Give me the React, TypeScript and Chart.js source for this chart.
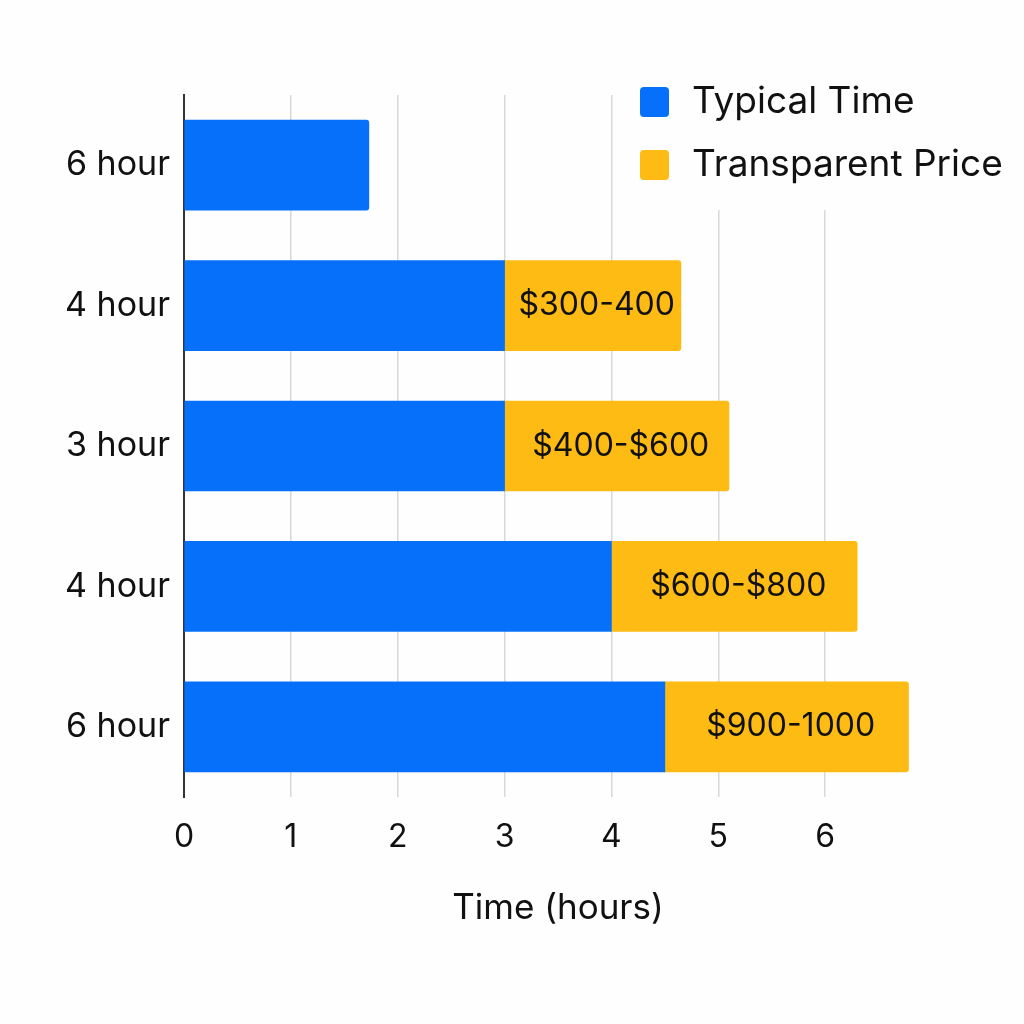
import React, { useEffect, useRef } from "react";
import { Chart, registerables } from "chart.js";

Chart.register(...registerables);

const categories = ["6 hour", "4 hour", "3 hour", "4 hour", "6 hour"];
const typicalTime = [1.73, 3, 3, 4, 4.5];
const transparentPrice = [null, 1.65, 2.1, 2.3, 2.28];
const priceLabels = ["", "$300-400", "$400-$600", "$600-$800", "$900-1000"];
const seriesNames = ["Typical Time", "Transparent Price"];
const xTicks = [0, 1, 2, 3, 4, 5, 6];

const BLUE = "#0670FB";
const ORANGE = "#FDBB13";
const FONT = "Inter, 'Noto Sans', sans-serif";
const BG = "#FEFEFE";

const bgPlugin = {
  id: "bg",
  beforeDraw(chart: any) {
    const { ctx, width, height } = chart;
    ctx.save();
    ctx.fillStyle = BG;
    ctx.fillRect(0, 0, width, height);
    ctx.restore();
  },
};

const labelPlugin = {
  id: "priceLabels",
  afterDatasetsDraw(chart: any) {
    const { ctx } = chart;
    const meta = chart.getDatasetMeta(1);
    ctx.save();
    ctx.font = `32px ${FONT}`;
    ctx.fillStyle = "#111";
    ctx.textAlign = "center";
    ctx.textBaseline = "middle";
    meta.data.forEach((el: any, i: number) => {
      const t = priceLabels[i];
      if (!t) return;
      const cx = (el.x + el.base) / 2 + 4;
      ctx.fillText(t, cx, el.y);
    });
    ctx.restore();
  },
};

const legendPlugin = {
  id: "customLegend",
  beforeDatasetsDraw(chart: any) {
    const { ctx } = chart;
    ctx.save();
    ctx.fillStyle = BG;
    ctx.fillRect(625, 60, 390, 150);
    ctx.restore();
  },
  afterDraw(chart: any) {
    const { ctx } = chart;
    const colors = [BLUE, ORANGE];
    const ys = [102, 165];
    ctx.save();
    seriesNames.forEach((name, i) => {
      ctx.fillStyle = colors[i];
      ctx.beginPath();
      (ctx as any).roundRect(640, ys[i] - 15, 29, 30, 4);
      ctx.fill();
      ctx.fillStyle = "#111";
      ctx.font = `37px ${FONT}`;
      ctx.textAlign = "left";
      ctx.textBaseline = "middle";
      ctx.fillText(name, 692, ys[i]);
    });
    ctx.restore();
  },
};

export default function App() {
  const ref = useRef<HTMLCanvasElement>(null);
  useEffect(() => {
    document.body.style.margin = "0";
    const chart = new Chart(ref.current!, {
      type: "bar",
      data: {
        labels: categories,
        datasets: [
          {
            label: seriesNames[0],
            data: typicalTime,
            backgroundColor: BLUE,
            barThickness: 90,
            borderRadius: 3,
          },
          {
            label: seriesNames[1],
            data: transparentPrice as any,
            backgroundColor: ORANGE,
            barThickness: 90,
            borderRadius: 3,
          },
        ],
      },
      options: {
        indexAxis: "y",
        animation: false,
        responsive: false,
        maintainAspectRatio: false,
        layout: { padding: { top: 95, right: 92, bottom: 0, left: 0 } },
        plugins: {
          legend: { display: false },
          tooltip: { enabled: false },
        },
        scales: {
          x: {
            stacked: true,
            min: 0,
            max: 7,
            afterFit(s: any) {
              s.height = 227;
            },
            afterBuildTicks(s: any) {
              s.ticks = [...xTicks, 7].map((v) => ({ value: v }));
            },
            ticks: {
              stepSize: 1,
              padding: 21,
              color: "#111",
              font: { family: FONT, size: 32 },
              callback: (v: any) => (xTicks.includes(Number(v)) ? String(v) : ""),
            },
            grid: {
              drawTicks: false,
              lineWidth: 1.5,
              color: (c: any) =>
                c.tick && (c.tick.value === 0 || c.tick.value === 7) ? "rgba(0,0,0,0)" : "#D8D8D8",
            },
            border: { display: false },
            title: {
              display: true,
              text: "Time (hours)",
              color: "#111",
              font: { family: FONT, size: 35 },
              padding: { top: 0, bottom: 95 },
            },
          },
          y: {
            stacked: true,
            afterFit(s: any) {
              s.width = 184;
            },
            ticks: {
              padding: 14,
              color: "#111",
              font: { family: FONT, size: 34 },
            },
            grid: { display: false, drawTicks: false },
            border: { display: true, color: "#333", width: 2 },
          },
        },
      },
      plugins: [bgPlugin, labelPlugin, legendPlugin],
    });
    return () => chart.destroy();
  }, []);
  return (
    <div style={{ width: 1024, height: 1024 }}>
      <canvas ref={ref} width={1024} height={1024} style={{ width: 1024, height: 1024 }} />
    </div>
  );
}
